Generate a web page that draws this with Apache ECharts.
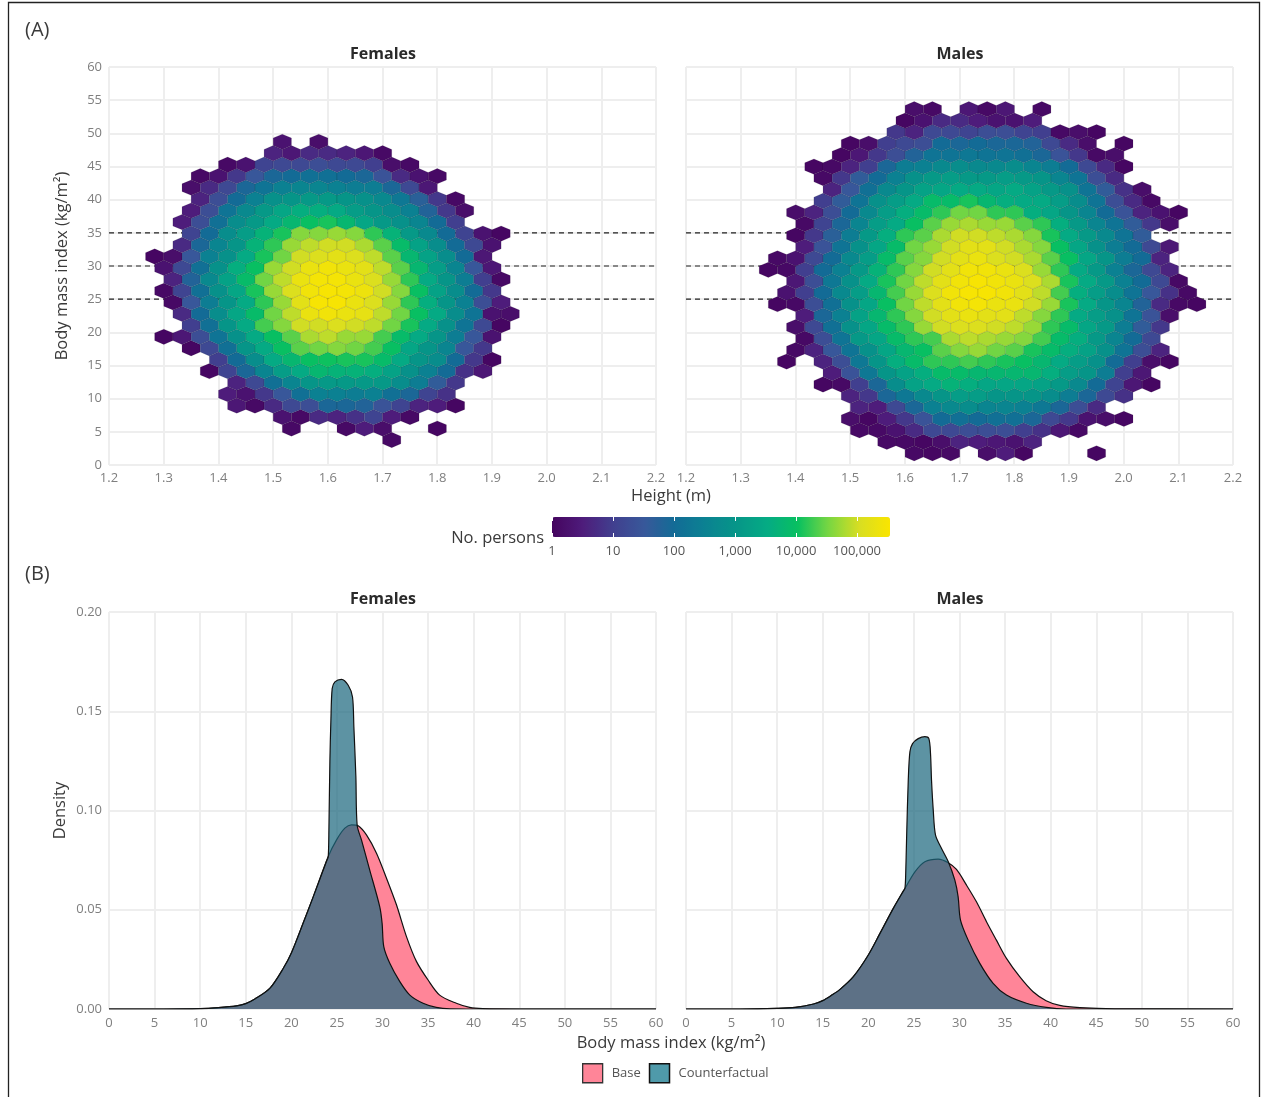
<!DOCTYPE html>
<html>
<head>
<meta charset="utf-8">
<style>html,body{margin:0;padding:0;background:#fff}#c{width:1261px;height:1097px}</style>
<script src="https://cdn.jsdelivr.net/npm/echarts@6/dist/echarts.min.js"></script>
</head>
<body>
<div id="c"></div>
<script>
// Hex cells: each row is [first column, log10(count) per column...]; row index counts upward.
const femaleHexRows = [
[13,.1],
[7,.1,null,null,.1,.5,.2,null,null,.05],
[7,.3,.1,.7,.6,.8,1.1,.5,.1],
[4,.4,.1,.7,1.2,1.3,1.9,1.9,1.8,1.4,1.1,.6,.5,.05],
[4,.5,.3,.9,1.5,2.1,2.5,2.5,2.4,2.5,2.1,1.9,1.1,.8],
[4,.6,1.2,2.1,2.6,3,3.1,3.1,3.1,3.1,2.8,2.4,1.6,.9],
[3,.05,1.1,1.9,2.6,3.2,3.5,3.8,3.7,3.7,3.6,3.3,2.9,2.5,2,.8,.4],
[3,1,2,2.8,3.5,3.8,4,4.05,4.1,4.1,3.9,3.5,3,2.8,2,.9,.05],
[2,.05,1.2,2.1,3,3.5,4,4.4,4.5,4.6,4.5,4.3,4,3.4,3,2.6,1.5,.9],
[0,.05,.4,1.3,2.2,2.9,3.5,4,4.4,4.8,4.9,4.7,4.7,4.3,3.9,3.5,3,2.4,1.5,.3],
[2,1,2.1,3,3.5,4.3,4.6,5,5,5.1,5,4.9,4.5,4.1,3.5,2.9,2.2,1.2,.05],
[1,.7,2,2.8,3.4,3.9,4.5,4.9,5.3,5.4,5.3,5.25,4.9,4.5,4,3.5,2.8,2.2,.3,.2],
[1,.1,1.5,2.4,3,3.5,4.2,4.7,5.2,5.5,5.5,5.3,5.1,4.7,4.2,3.6,3,2.5,1.3,.5],
[0,.1,1.1,2.1,2.9,3.4,4.1,4.7,5.1,5.4,5.5,5.45,5.35,5,4.6,4,3.3,2.8,2,.9],
[1,.6,1.8,2.7,3.3,3.9,4.5,4.9,5.3,5.45,5.45,5.3,5.1,4.7,4.2,3.5,3,2.4,1,.1],
[0,.3,1.2,2.1,2.9,3.6,4,4.7,5,5.3,5.4,5.3,5.2,4.9,4.4,3.8,3.2,2.6,1.5,.4],
[0,.05,.2,1.5,2.5,2.9,3.5,4.1,4.5,5,5.1,5.2,5.1,4.9,4.4,3.8,3.3,2.8,2,.4],
[1,.7,1.9,2.6,3,3.7,4.2,4.7,4.9,5,5,4.8,4.4,3.9,3.3,2.8,2,1.2,.3],
[2,1.1,2,2.8,3.2,3.7,4.1,4.6,4.6,4.7,4.6,4.2,3.7,3.1,2.7,2,1.1,.3,.05],
[1,.5,1.3,2.1,2.8,3.1,3.5,3.8,4,4.1,3.8,3.4,3.1,2.9,2.6,2,1],
[2,.5,1.3,2.2,2.7,3.1,3.4,3.6,3.6,3.5,3.2,3,2.8,2.5,1.8,.9,.2],
[2,.6,1.3,2,2.5,2.9,3,3.1,3.1,3,2.9,2.7,2.3,1.7,.9,.1],
[2,.2,.7,1.2,1.9,2.2,2.5,2.6,2.6,2.5,2.4,2.4,1.9,1.2,.4],
[2,.1,.3,.9,1.5,1.9,2,2.1,2.1,2,1.9,1.4,.7,.3,.1],
[4,.1,.3,1.1,1.2,1.2,1.3,1.2,1.2,1,.2,.1],
[6,.6,.4,.7,.7,.6,.4,.1],
[7,.3,null,.2]
];
const maleHexRows = [
[8,.1,.05,.1,null,.2,.5,.05,null,null,null,.05],
[6,.1,.1,.05,.2,.6,.5,.4,.3,.6],
[5,.1,.1,.3,.7,1.2,1.2,1.3,1.3,1.3,1,.8,.4,.1],
[4,.2,.05,.5,.9,1.4,2,2.1,2,2.1,2.1,1.9,1.2,.9,.3,.2,.05],
[5,.6,.5,1.2,1.9,2.5,2.7,2.8,2.6,2.6,2.5,2.3,1.9,1.3,.7],
[4,.6,.9,1.9,2.3,2.7,3,3.2,3.2,3,3,3,2.8,2.4,1.9,1.2,.8],
[3,.05,.1,1,1.9,2.8,3.3,3.5,3.7,3.6,3.4,3.4,3.4,3.3,3.1,2.7,2,1.1,.4,.05],
[3,.5,1.4,2.3,3,3.3,3.6,3.9,3.9,3.8,3.8,3.8,3.8,3.6,3.2,3,2.4,1,.4],
[1,.05,null,.6,1.3,2.3,3,3.6,3.9,4.2,4.2,4.3,4.2,4.1,4,3.8,3.5,3.2,2.9,2,1,.2,.05],
[1,.1,.6,1.5,2.2,2.9,3.4,3.8,4,4.4,4.6,4.7,4.5,4.4,4.1,3.9,3.6,3.3,2.9,2.2,1.3,.6],
[2,.1,1.3,2.2,3.1,3.4,3.9,4.2,4.3,4.8,4.9,4.8,4.7,4.6,4.3,3.9,3.6,3.1,2.6,2,1.2],
[1,.2,1.2,2.1,2.9,3.4,3.9,4.2,4.7,5,5.1,5.1,5,4.9,4.7,4.2,3.9,3.4,3.1,2.4,1.6,.9],
[2,.5,1.9,2.5,3.3,3.8,4.2,4.6,5,5.2,5.3,5.2,5.2,4.9,4.6,4.2,3.5,3.2,2.9,2.2,1.4,.2],
[0,.05,.1,1.3,2.1,2.9,3.4,4,4.5,4.9,5.2,5.4,5.45,5.3,5.3,5,4.7,4.1,3.5,3,2.6,1.8,.7,.1,.05],
[1,.3,1,2,2.7,3.2,3.8,4.3,4.7,5.1,5.4,5.5,5.5,5.4,5.2,4.9,4.3,3.6,3.2,2.8,2.2,1.5,.8,.1],
[1,.4,1.3,2.3,2.9,3.5,4.1,4.5,4.9,5.2,5.4,5.5,5.4,5.3,5.1,4.8,4.1,3.5,3.1,2.5,2,1.2,.1],
[0,.05,.1,1,2,2.5,3.1,3.7,4.2,4.6,5,5.2,5.4,5.4,5.3,5.1,4.7,4.2,3.5,3.1,2.5,1.9,1.2,.6],
[0,.1,.3,1.2,2,2.7,3.2,3.9,4.4,4.6,5,5.2,5.3,5.1,5,4.8,4.4,4,3.4,3,2.4,2,.6],
[2,.5,1.4,2.2,2.9,3.4,3.9,4.5,4.7,5,5.2,5.2,5,4.8,4.6,4,3.4,2.9,2.4,2,1.2,.4],
[1,.05,.9,1.7,2.4,3.1,3.6,4.2,4.4,4.8,5,5,4.9,4.8,4.6,4.1,3.5,3.1,2.7,2.2,1.6],
[2,.1,1.1,1.9,2.6,3.2,3.5,4,4.4,4.7,4.8,4.7,4.7,4.4,4.2,3.6,3.1,2.6,2.2,1.6,.9,.2],
[1,.2,.6,1.3,2,2.7,3.2,3.6,3.9,4.2,4.5,4.5,4.2,4.2,3.6,3.4,3,2.6,2,1.4,.6,.3,.05],
[3,1,1.6,2.2,2.9,3.2,3.5,3.9,3.9,4.1,3.8,3.6,3.5,3.5,3.2,2.8,2.2,1.3,.7,.1],
[3,.6,1.5,2.1,2.7,3,3.3,3.4,3.5,3.5,3.4,3.5,3.3,3.1,2.9,2.2,1.6,.8,.2],
[3,.1,.9,1.6,2,2.5,2.9,3.1,3.2,3.1,3.1,3.2,3.1,3,2.6,2.2,1.3,.7],
[2,.05,.1,.6,1,1.9,2.4,2.5,2.7,2.8,2.7,2.7,2.8,2.6,2.4,2,1.2,.7,.05],
[4,.05,.4,.9,1.3,1.8,2.2,2.2,2.3,2.2,2.2,2.1,1.9,1.4,.9,.1,.2],
[4,.05,.2,1,1.2,1.3,2,1.9,2,1.9,1.9,1.8,1.2,.7,.2,null,.05],
[7,.9,.6,1.2,1.2,1.1,1.3,1.3,1.1,1,.1,.2,.05],
[7,.05,.3,.7,.7,.5,.3,.3,.5],
[8,.2,.1,null,.4,.1,.4,null,.1]
];
// Hexbin grids
const hexWidthM = 1 / 30;
const hexRowBmi = 1.729;
const femaleGridOrigin = [1.2835, 3.77];
const maleGridOrigin = [1.3505, 1.764];
const referenceBmi = [25, 30, 35];
const heightTicks = [1.2, 2.2];
const colorStops = ['#45045f','#4e1c7b','#41408f','#38589a','#126c96','#0b8292','#069688','#05ab84','#08c060','#78d642','#d8de22','#fae500'];
const colorbarMax = 5.54;
const colorbarLabels = ['1','10','100','1,000','10,000','100,000'];
// Density curves [BMI, density]
const femaleBase = [[0,0],[6,0],[10,.0002],[12,.0007],[14,.0016],[15,.0027],[16,.005],[17.66,.0105],[19.12,.0205],[20.03,.0285],[21.3,.0433],[22.4,.0565],[24.05,.0768],[24.96,.0852],[25.87,.0911],[26.6,.0928],[27.33,.0923],[28.24,.0877],[29.34,.0785],[30.43,.066],[31.53,.0525],[32.62,.0366],[33.72,.024],[35,.0146],[36.27,.007],[38.1,.0029],[39.56,.0008],[41,.0002],[45,0],[60,0]];
const femaleCounterfactual = [[0,0],[6,0],[10,.0002],[12,.0007],[14,.0016],[15,.0027],[16,.005],[17.66,.0105],[19.12,.0205],[20.03,.0285],[21.3,.0433],[22.4,.0565],[23.9,.0749],[24.05,.0768],[24.12,.09],[24.23,.1253],[24.34,.1455],[24.48,.1614],[24.78,.1648],[25.5,.1661],[26.24,.1631],[26.71,.1572],[26.86,.1421],[27.08,.1169],[27.22,.0926],[27.7,.0851],[28.6,.07],[29.7,.0515],[29.96,.0431],[30.14,.0314],[30.8,.023],[31.9,.0138],[33,.007],[34.45,.0029],[35.9,.0008],[37.4,.0001],[42,0],[60,0]];
const maleBase = [[0,0],[6,0],[10,.0003],[12,.0008],[14,.0025],[15,.0042],[16,.007],[16.9,.0099],[18.36,.0163],[20,.0272],[21.28,.0381],[22.74,.0507],[24.01,.0607],[25.11,.0691],[26.2,.0742],[27.66,.0755],[28.76,.0737],[29.67,.0703],[30.77,.0624],[31.86,.054],[32.96,.044],[34.05,.0347],[35.15,.0255],[36.6,.0163],[38.07,.0087],[39.5,.0042],[41,.0018],[43.2,.0007],[47,.0001],[60,0]];
const maleCounterfactual = [[0,0],[6,0],[10,.0003],[12,.0008],[14,.0025],[15,.0042],[16,.007],[16.9,.0099],[18.36,.0163],[20,.0272],[21.28,.0381],[22.74,.0507],[23.85,.0595],[24.01,.0607],[24.09,.0666],[24.2,.0867],[24.38,.1153],[24.56,.1295],[24.85,.1337],[25.47,.1362],[26.2,.1372],[26.64,.1362],[26.82,.1287],[26.93,.1153],[27.12,.1002],[27.37,.0876],[28.03,.0809],[28.76,.0743],[29.49,.0649],[29.85,.0565],[30.11,.0448],[30.95,.0347],[32.23,.023],[33.69,.0129],[35.15,.007],[37.34,.0029],[39.53,.0008],[41.7,0],[60,0]];

const FONT = '"Open Sans"';
const GRID_COLOR = '#eeeeee';
const LABEL = '#7f7f7f';
const TEXT = '#3a3a3a';

function hexData(rows, origin) {
  const out = [];
  rows.forEach((row, r) => {
    row.slice(1).forEach((v, i) => {
      if (v === null) return;
      const col = row[0] + i + (r % 2 ? 0.5 : 0);
      out.push([origin[0] + col * hexWidthM, origin[1] + r * hexRowBmi, v]);
    });
  });
  return out;
}
function renderHex(params, api) {
  const c = api.coord([api.value(0), api.value(1)]);
  const s = api.size([hexWidthM, hexRowBmi]);
  const w = s[0] / 2, h = s[1] / 3, R = s[1] * 2 / 3;
  return {
    type: 'polygon',
    shape: { points: [[c[0], c[1]-R],[c[0]+w, c[1]-h],[c[0]+w, c[1]+h],[c[0], c[1]+R],[c[0]-w, c[1]+h],[c[0]-w, c[1]-h]] },
    style: { fill: api.visual('color'), stroke: 'rgba(0,0,0,0.18)', lineWidth: 0.6 }
  };
}
const axisCommon = {
  axisLine: { show: false }, axisTick: { show: false },
  splitLine: { show: true, lineStyle: { color: GRID_COLOR, width: 2 } },
  axisLabel: { color: LABEL, fontFamily: FONT, fontSize: 13 }
};
const names = { color: TEXT, fontFamily: FONT, fontSize: 16.5 };
const grids = [
  { left: 109, top: 67, width: 547, height: 398 },
  { left: 686, top: 67, width: 547, height: 398 },
  { left: 109, top: 612, width: 547, height: 397 },
  { left: 686, top: 612, width: 547, height: 397 },
  { left: 552, top: 517, width: 338, height: 20 }
];
const xAxes = [0,1].map(i => ({ ...axisCommon, type:'value', gridIndex:i, min:heightTicks[0], max:heightTicks[1], interval:0.1,
    axisLabel:{...axisCommon.axisLabel, margin:7, formatter:v=>v.toFixed(1)} }))
  .concat([2,3].map(i => ({ ...axisCommon, type:'value', gridIndex:i, min:0, max:60, interval:5,
    axisLabel:{...axisCommon.axisLabel, margin:8} })))
  .concat([
    { type:'value', gridIndex:4, z:20, min:0, max:colorbarMax, interval:1, splitLine:{show:false}, axisLine:{show:false},
      axisTick:{show:true, inside:true, length:4, lineStyle:{color:'#fff', width:1}},
      axisLabel:{color:'#555', fontFamily:FONT, fontSize:13, margin:8, showMaxLabel:false, formatter:(v,i)=>colorbarLabels[i]||''} },
    { type:'value', gridIndex:4, z:20, position:'top', min:0, max:colorbarMax, interval:1, splitLine:{show:false}, axisLine:{show:false},
      axisTick:{show:true, inside:true, length:4, lineStyle:{color:'#fff', width:1}}, axisLabel:{show:false} }
  ]);
const yAxes = [0,1].map(i => ({ ...axisCommon, type:'value', gridIndex:i, min:0, max:60, interval:5,
    name: i===0 ? 'Body mass index (kg/m²)' : '', nameLocation:'middle', nameGap:38, nameTextStyle:names,
    axisLabel:{...axisCommon.axisLabel, show:i===0, margin:7, padding:[3,0,0,0]} }))
  .concat([2,3].map(i => ({ ...axisCommon, type:'value', gridIndex:i, min:0, max:0.2, interval:0.05,
    name: i===2 ? 'Density' : '', nameLocation:'middle', nameGap:40, nameTextStyle:names,
    axisLabel:{...axisCommon.axisLabel, show:i===2, margin:7, padding:[3,0,0,0], formatter:v=>v.toFixed(2)} })))
  .concat([{ type:'value', gridIndex:4, min:0, max:1, show:false }]);

const refSeries = [];
[0,1].forEach(i => referenceBmi.forEach(b => refSeries.push({
  type:'line', xAxisIndex:i, yAxisIndex:i, silent:true, symbol:'none', z:1,
  data:[[heightTicks[0],b],[heightTicks[1],b]],
  lineStyle:{color:'#222', width:1.2, type:[5,4]}
})));
const PINK = '#ff8598', TEAL_FILL = 'rgba(30,105,128,0.72)', TEAL = '#4f9aaa';
function densitySeries(name, data, idx, fill, z) {
  return { name, type:'line', xAxisIndex:idx, yAxisIndex:idx, data, symbol:'none', z, silent:true,
    smooth:0.3, areaStyle:{color:fill, opacity:1, origin:'start'},
    lineStyle:{color:'#111', width:1.2}, itemStyle:{color:fill} };
}
const series = [
  { type:'custom', xAxisIndex:0, yAxisIndex:0, renderItem:renderHex, data:hexData(femaleHexRows,femaleGridOrigin), encode:{x:0,y:1}, z:3, silent:true, clip:false },
  { type:'custom', xAxisIndex:1, yAxisIndex:1, renderItem:renderHex, data:hexData(maleHexRows,maleGridOrigin), encode:{x:0,y:1}, z:3, silent:true, clip:false },
  ...refSeries,
  densitySeries('Base', femaleBase, 2, PINK, 3),
  densitySeries('Counterfactual', femaleCounterfactual, 2, TEAL_FILL, 4),
  densitySeries('Base', maleBase, 3, PINK, 3),
  densitySeries('Counterfactual', maleCounterfactual, 3, TEAL_FILL, 4)
];
const titleStyle = { fontFamily:FONT, fontSize:16, fontWeight:'bold', color:'#2a2a2a' };
const titles = [[383,46,'Females'],[960,46,'Males'],[383,591,'Females'],[960,591,'Males']]
  .map(t => ({ text:t[2], left:t[0], top:t[1], textAlign:'center', padding:0, textStyle:titleStyle }));
function label(x, y, text, size, align, color) {
  return { type:'text', x, y, z:100, style:{ text, fontFamily:FONT, fontSize:size, fill:color||TEXT, textAlign:align||'center', textVerticalAlign:'middle' } };
}
const chart = echarts.init(document.getElementById('c'), null, { renderer:'canvas', width:1261, height:1097 });
chart.setOption({
  backgroundColor:'#fff', animation:false, title:titles, grid:grids, xAxis:xAxes, yAxis:yAxes, series,
  visualMap:{ type:'continuous', seriesIndex:[0,1], dimension:2, min:0, max:colorbarMax, orient:'horizontal',
    left:552, top:517, itemWidth:20, itemHeight:338, calculable:false, realtime:false, hoverLink:false, showLabel:false, text:null, padding:0,
    inRange:{color:colorStops}, z:1 },
  legend:{ left:582, top:1063, padding:0, selectedMode:false, itemWidth:20, itemHeight:19, itemGap:8,
    textStyle:{fontFamily:FONT, fontSize:13, color:'#555', padding:[0,0,0,4]},
    data:[
      { name:'Base', icon:'rect', itemStyle:{color:PINK, borderColor:'#333', borderWidth:1.3}, lineStyle:{width:0} },
      { name:'Counterfactual', icon:'rect', itemStyle:{color:TEAL, borderColor:'#111', borderWidth:1.5}, lineStyle:{width:0} }
    ] },
  graphic:[
    { type:'rect', shape:{x:8.5,y:2.5,width:1251,height:1200}, style:{fill:'none',stroke:'#222',lineWidth:1.3}, z:-1, silent:true },
    label(25,30,'(A)',20,'left'), label(25,574,'(B)',20,'left'),
    label(671,496,'Height (m)',16.5), label(671,1043,'Body mass index (kg/m²)',16.5),
    label(544,538,'No. persons',16.5,'right')
  ]
});
</script>
</body>
</html>
